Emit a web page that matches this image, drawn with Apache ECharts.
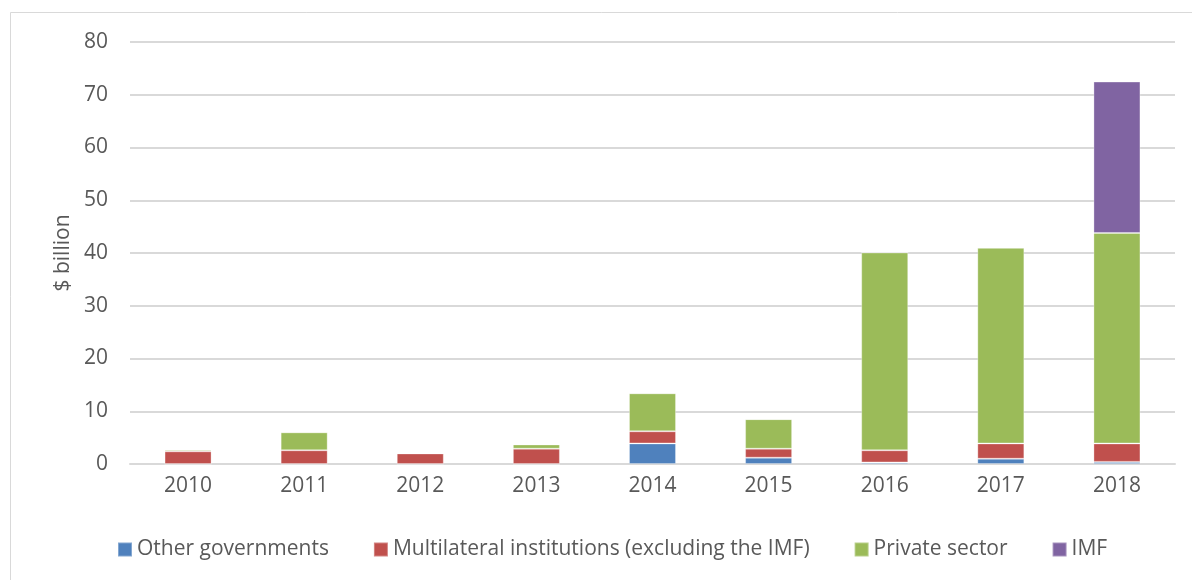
<!DOCTYPE html>
<html>
<head>
<meta charset="utf-8">
<script src="https://cdn.jsdelivr.net/npm/echarts@6/dist/echarts.min.js"></script>
<style>
  html, body { margin: 0; padding: 0; background: #ffffff; }
  #chart { width: 1192px; height: 580px; }
</style>
</head>
<body>
<div id="chart"></div>
<script>
// Financing sources by year, $ billion
const years = ['2010', '2011', '2012', '2013', '2014', '2015', '2016', '2017', '2018'];
const otherGovernments = [0, 0, 0, 0, 3.9, 1.2, 0.3, 1.0, 0.4];
const multilateral = [2.4, 2.6, 2.0, 2.9, 2.3, 1.7, 2.3, 2.9, 3.5];
const privateSector = [0.3, 3.4, 0.1, 0.8, 7.2, 5.6, 37.5, 37.1, 39.9];
const imf = [0, 0, 0, 0, 0, 0, 0, 0, 28.7];

const seriesNames = ['Other governments', 'Multilateral institutions (excluding the IMF)', 'Private sector', 'IMF'];
const seriesColors = ['#4F81BD', '#C0504D', '#9BBB59', '#8064A2'];
const seriesData = [otherGovernments, multilateral, privateSector, imf];

const textColor = '#595959';
const fontFamily = '"Open Sans", "Noto Sans", sans-serif';

const chart = echarts.init(document.getElementById('chart'), null, { renderer: 'canvas' });

chart.setOption({
  animation: false,
  backgroundColor: '#ffffff',
  graphic: [{
    type: 'rect',
    shape: { x: 10.5, y: 12.5, width: 1300, height: 700 },
    style: { fill: 'none', stroke: '#d9d9d9', lineWidth: 1 },
    silent: true,
    z: -1
  }],
  grid: { left: 130, right: 17, top: 42, bottom: 116, containLabel: false },
  legend: {
    left: 112,
    top: 534,
    itemWidth: 14,
    itemHeight: 14,
    itemGap: 44,
    icon: 'rect',
    textStyle: { color: textColor, fontSize: 21, fontFamily: fontFamily, padding: [0, 0, 0, 0] },
    data: seriesNames
  },
  xAxis: {
    type: 'category',
    data: years,
    axisLine: { show: true, lineStyle: { color: '#d9d9d9', width: 2 } },
    axisTick: { show: false },
    axisLabel: { color: textColor, fontSize: 21, fontFamily: fontFamily, margin: 12 }
  },
  yAxis: {
    type: 'value',
    min: 0,
    max: 80,
    interval: 10,
    name: '$ billion',
    nameLocation: 'middle',
    nameGap: 56,
    nameRotate: 90,
    nameTextStyle: { color: textColor, fontSize: 21, fontFamily: fontFamily },
    axisLine: { show: false },
    axisTick: { show: false },
    axisLabel: { color: textColor, fontSize: 21, fontFamily: fontFamily, margin: 22 },
    splitLine: { lineStyle: { color: '#d9d9d9', width: 2 } }
  },
  series: seriesNames.map((name, i) => ({
    name: name,
    type: 'bar',
    stack: 'total',
    barWidth: 47,
    data: seriesData[i],
    itemStyle: { color: seriesColors[i], borderColor: 'rgba(255,255,255,0.3)', borderWidth: 1 }
  }))
});
</script>
</body>
</html>
